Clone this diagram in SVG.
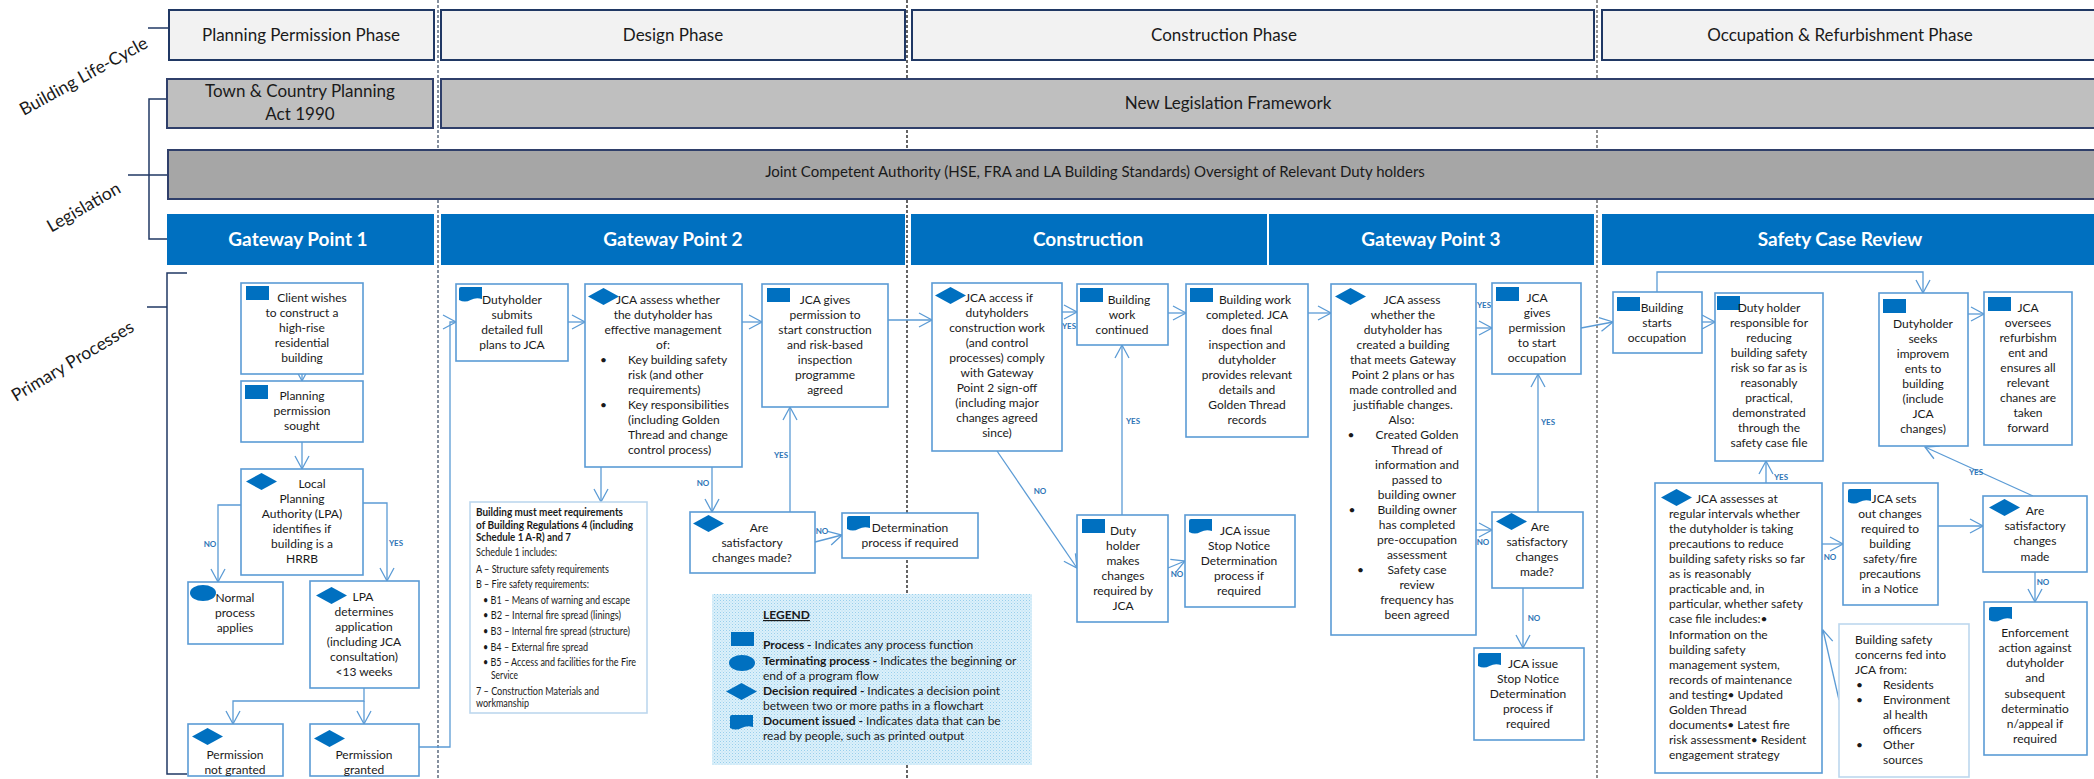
<svg xmlns="http://www.w3.org/2000/svg" width="2094" height="779" viewBox="0 0 2094 779">
<style>
.ph{fill:#f2f2f2;stroke:#203864;stroke-width:2}
.lg1{fill:#bfbfbf;stroke:#2f3f6a;stroke-width:2}
.lg2{fill:#a6a6a6;stroke:#2f3f6a;stroke-width:2}
.hd{fill:#0070c0}
.bx{fill:#fff;stroke:#5b9bd5;stroke-width:1.6}
.bx2{fill:#fff;stroke:#bdd7ee;stroke-width:1.6}
.ic{fill:#0070c0}
text{font-family:Lato,'Liberation Sans',sans-serif;fill:#1a1a1a}
.t{font-size:12px;text-anchor:middle}
.tl{font-size:12px;text-anchor:start}
.rg{font-size:11px;text-anchor:start}
.pt{font-size:17px;text-anchor:middle}
.hw{font-size:19px;font-weight:700;fill:#fff;text-anchor:middle}
.rot{font-size:17.5px;text-anchor:middle}
.yn{font-size:8px;font-weight:700;fill:#2e75b6;text-anchor:middle}
.c{stroke:#5b9bd5;stroke-width:1.3;fill:none;marker-end:url(#ah)}
.br{stroke:#203864;stroke-width:1.5;fill:none}
.dv{stroke-width:1.3;stroke-dasharray:3,2;fill:none}
</style>
<defs>
<marker id="ah" markerUnits="userSpaceOnUse" markerWidth="16" markerHeight="17" refX="14" refY="8" orient="auto">
<path d="M1,1 L14,8 L1,15" fill="none" stroke="#5b9bd5" stroke-width="1.3"/>
</marker>
<rect id="proc" width="23" height="14" class="ic"/>
<polygon id="dia" points="0,8.5 15.5,0 31,8.5 15.5,17" class="ic"/>
<path id="doc" d="M0,2 Q0,0 2,0 H23 V12 Q17,10 11.5,13 Q6,16 0,13 Z" class="ic"/>
<pattern id="dots" width="3" height="3" patternUnits="userSpaceOnUse">
<rect width="3" height="3" fill="#dcf0fa"/>
<rect width="1" height="1" fill="#98cfec"/>
<rect x="1.5" y="1.5" width="1" height="1" fill="#b3ddf2"/>
</pattern>
</defs>

<g id="dividers">
<line x1="438" y1="0" x2="438" y2="779" class="dv" stroke="#44546a"/>
<line x1="907" y1="0" x2="907" y2="779" class="dv" stroke="#111"/>
<line x1="1597" y1="0" x2="1597" y2="779" class="dv" stroke="#555"/>
</g>

<g id="side">
<line x1="148" y1="28" x2="169" y2="28" class="br"/>
<path d="M167,99 H149 V239 H168 M128,175 H168" class="br"/>
<path d="M187,273 H167 V774 H187 M147,307 H167" class="br"/>
<text class="rot" transform="translate(84,77) rotate(-29)" y="5">Building Life-Cycle</text>
<text class="rot" transform="translate(84,208) rotate(-30)" y="5">Legislation</text>
<text class="rot" transform="translate(73,362) rotate(-31)" y="5">Primary Processes</text>
</g>

<g id="phase-planning"><rect x="169" y="10" width="265" height="50" class="ph"/><text class="pt" x="301" y="41">Planning Permission Phase</text></g>
<g id="phase-design"><rect x="441" y="10" width="464" height="50" class="ph"/><text class="pt" x="673" y="41">Design Phase</text></g>
<g id="phase-construction"><rect x="912" y="10" width="682" height="50" class="ph"/><text class="pt" x="1224" y="41">Construction Phase</text></g>
<g id="phase-occupation"><rect x="1602" y="10" width="500" height="50" class="ph"/><text class="pt" x="1840" y="41">Occupation &amp; Refurbishment Phase</text></g>

<g id="leg-tcp"><rect x="167" y="79" width="266" height="49" class="lg1"/><text class="pt" x="300" y="97">Town &amp; Country Planning</text><text class="pt" x="300" y="120">Act 1990</text></g>
<g id="leg-new"><rect x="441" y="79" width="1660" height="49" class="lg1"/><text class="pt" x="1228" y="109">New Legislation Framework</text></g>
<g id="leg-jca"><rect x="168" y="150" width="1933" height="49" class="lg2"/><text class="pt" style="font-size:15px" x="1095" y="177">Joint Competent Authority (HSE, FRA and LA Building Standards) Oversight of Relevant Duty holders</text></g>

<g id="hd-gp1"><rect x="167" y="214" width="267" height="51" class="hd"/><text class="hw" x="298" y="246">Gateway Point 1</text></g>
<g id="hd-gp2"><rect x="441" y="214" width="464" height="51" class="hd"/><text class="hw" x="673" y="246">Gateway Point 2</text></g>
<g id="hd-con"><rect x="911" y="214" width="356" height="51" class="hd"/><text class="hw" x="1088" y="246">Construction</text></g>
<g id="hd-gp3"><rect x="1269" y="214" width="325" height="51" class="hd"/><text class="hw" x="1431" y="246">Gateway Point 3</text></g>
<g id="hd-scr"><rect x="1602" y="214" width="500" height="51" class="hd"/><text class="hw" x="1840" y="246">Safety Case Review</text></g>

<g id="connectors">
<path d="M302,374 V381" class="c"/>
<path d="M302,442 V469" class="c"/>
<path d="M241,505 H218 V582" class="c"/>
<path d="M363,503 H387 V581" class="c"/>
<path d="M364,688 V701 H233 V724" class="c"/>
<path d="M364,701 V724" class="c"/>
<path d="M419,747 H450 V322 H456" class="c"/>
<path d="M568,322 H585" class="c"/>
<path d="M742,322 H762" class="c"/>
<path d="M888,320 H932" class="c"/>
<path d="M601,453 V502" class="c"/>
<path d="M712,453 V512" class="c"/>
<path d="M790,512 V407" class="c"/>
<path d="M815,542 L842,535" class="c"/>
<path d="M1062,312 H1077" class="c"/>
<path d="M1168,313 H1186" class="c"/>
<path d="M1308,313 H1331" class="c"/>
<path d="M997,451 L1077,568" class="c"/>
<path d="M1122,515 V345" class="c"/>
<path d="M1168,568 L1185,561" class="c"/>
<path d="M1476,328 H1492" class="c"/>
<path d="M1581,328 L1613,322" class="c"/>
<path d="M1476,530 H1492" class="c"/>
<path d="M1538,512 V374" class="c"/>
<path d="M1523,588 V648" class="c"/>
<path d="M1657,292 V272 H1923 V293" class="c"/>
<path d="M1702,322 H1715" class="c"/>
<path d="M1968,314 H1984" class="c"/>
<path d="M1766,483 V461" class="c"/>
<path d="M1822,544 H1843" class="c"/>
<path d="M1938,526 H1983" class="c"/>
<path d="M2033,496 L1925,447" class="c"/>
<path d="M2035,572 V602" class="c"/>
<path d="M1839,700 L1823,630" class="c"/>
<text class="yn" x="210" y="547">NO</text>
<text class="yn" x="396" y="546">YES</text>
<text class="yn" x="703" y="486">NO</text>
<text class="yn" x="781" y="458">YES</text>
<text class="yn" x="822" y="534">NO</text>
<text class="yn" x="1069" y="329">YES</text>
<text class="yn" x="1040" y="494">NO</text>
<text class="yn" x="1133" y="424">YES</text>
<text class="yn" x="1177" y="577">NO</text>
<text class="yn" x="1484" y="308">YES</text>
<text class="yn" x="1483" y="545">NO</text>
<text class="yn" x="1548" y="425">YES</text>
<text class="yn" x="1534" y="621">NO</text>
<text class="yn" x="1781" y="480">YES</text>
<text class="yn" x="1830" y="560">NO</text>
<text class="yn" x="1976" y="475">YES</text>
<text class="yn" x="2043" y="585">NO</text>
</g>

<g id="n-client"><rect x="241" y="283" width="122" height="91" class="bx"/><use href="#proc" x="246" y="286"/>
<text class="t"><tspan x="312" y="302">Client wishes</tspan><tspan x="302" y="317">to construct a</tspan><tspan x="302" y="332">high-rise</tspan><tspan x="302" y="347">residential</tspan><tspan x="302" y="362">building</tspan></text></g>
<g id="n-planning"><rect x="241" y="381" width="122" height="61" class="bx"/><use href="#proc" x="245" y="385"/>
<text class="t"><tspan x="302" y="400">Planning</tspan><tspan x="302" y="415">permission</tspan><tspan x="302" y="430">sought</tspan></text></g>
<g id="n-lpa"><rect x="241" y="469" width="122" height="106" class="bx"/><use href="#dia" x="246" y="473"/>
<text class="t"><tspan x="312" y="488">Local</tspan><tspan x="302" y="503">Planning</tspan><tspan x="302" y="518">Authority (LPA)</tspan><tspan x="302" y="533">identifies if</tspan><tspan x="302" y="548">building is a</tspan><tspan x="302" y="563">HRRB</tspan></text></g>
<g id="n-normal"><rect x="188" y="582" width="95" height="62" class="bx"/><ellipse cx="203" cy="593" rx="13" ry="8" class="ic"/>
<text class="t"><tspan x="235" y="602">Normal</tspan><tspan x="235" y="617">process</tspan><tspan x="235" y="632">applies</tspan></text></g>
<g id="n-lpadet"><rect x="310" y="581" width="109" height="107" class="bx"/><use href="#dia" x="316" y="587"/>
<text class="t"><tspan x="363" y="601">LPA</tspan><tspan x="364" y="616">determines</tspan><tspan x="364" y="631">application</tspan><tspan x="364" y="646">(including JCA</tspan><tspan x="364" y="661">consultation)</tspan><tspan x="364" y="676">&lt;13 weeks</tspan></text></g>
<g id="n-notgranted"><rect x="188" y="724" width="95" height="52" class="bx"/><use href="#dia" x="192" y="728"/>
<text class="t"><tspan x="235" y="759">Permission</tspan><tspan x="235" y="774">not granted</tspan></text></g>
<g id="n-granted"><rect x="310" y="724" width="109" height="52" class="bx"/><use href="#dia" x="314" y="730"/>
<text class="t"><tspan x="364" y="759">Permission</tspan><tspan x="364" y="774">granted</tspan></text></g>

<g id="n-dsubmit"><rect x="456" y="284" width="112" height="77" class="bx"/><use href="#doc" x="459" y="287"/>
<text class="t"><tspan x="512" y="304">Dutyholder</tspan><tspan x="512" y="319">submits</tspan><tspan x="512" y="334">detailed full</tspan><tspan x="512" y="349">plans to JCA</tspan></text></g>
<g id="n-jcaassess"><rect x="585" y="284" width="157" height="183" class="bx"/><use href="#dia" x="588" y="288"/>
<text class="t"><tspan x="668" y="304">JCA assess whether</tspan><tspan x="663" y="319">the dutyholder has</tspan><tspan x="663" y="334">effective management</tspan><tspan x="663" y="349">of:</tspan></text>
<text class="tl"><tspan x="600" y="364">•</tspan><tspan x="600" y="409">•</tspan></text>
<text class="tl"><tspan x="628" y="364">Key building safety</tspan><tspan x="628" y="379">risk (and other</tspan><tspan x="628" y="394">requirements)</tspan><tspan x="628" y="409">Key responsibilities</tspan><tspan x="628" y="424">(including Golden</tspan><tspan x="628" y="439">Thread and change</tspan><tspan x="628" y="454">control process)</tspan></text></g>
<g id="n-jcagives"><rect x="762" y="284" width="126" height="123" class="bx"/><use href="#proc" x="767" y="288"/>
<text class="t"><tspan x="825" y="304">JCA gives</tspan><tspan x="825" y="319">permission to</tspan><tspan x="825" y="334">start construction</tspan><tspan x="825" y="349">and risk-based</tspan><tspan x="825" y="364">inspection</tspan><tspan x="825" y="379">programme</tspan><tspan x="825" y="394">agreed</tspan></text></g>
<g id="n-regs"><rect x="470" y="502" width="177" height="211" class="bx2"/>
<text class="rg" style="font-weight:700"><tspan x="476" y="516" textLength="147" lengthAdjust="spacingAndGlyphs">Building must meet requirements</tspan><tspan x="476" y="529" textLength="157" lengthAdjust="spacingAndGlyphs">of Building Regulations 4 (including</tspan><tspan x="476" y="541" textLength="95" lengthAdjust="spacingAndGlyphs">Schedule 1 A-R) and 7</tspan></text>
<text class="rg"><tspan x="476" y="556" textLength="81" lengthAdjust="spacingAndGlyphs">Schedule 1 includes:</tspan><tspan x="476" y="573" textLength="133" lengthAdjust="spacingAndGlyphs">A – Structure safety requirements</tspan><tspan x="476" y="588" textLength="113" lengthAdjust="spacingAndGlyphs">B – Fire safety requirements:</tspan><tspan x="483" y="604" textLength="147" lengthAdjust="spacingAndGlyphs">• B1 – Means of warning and escape</tspan><tspan x="483" y="619" textLength="138" lengthAdjust="spacingAndGlyphs">• B2 – Internal fire spread (linings)</tspan><tspan x="483" y="635" textLength="147" lengthAdjust="spacingAndGlyphs">• B3 – Internal fire spread (structure)</tspan><tspan x="483" y="651" textLength="105" lengthAdjust="spacingAndGlyphs">• B4 – External fire spread</tspan><tspan x="483" y="666" textLength="153" lengthAdjust="spacingAndGlyphs">• B5 – Access and facilities for the Fire</tspan><tspan x="491" y="679" textLength="27" lengthAdjust="spacingAndGlyphs">Service</tspan><tspan x="476" y="695" textLength="123" lengthAdjust="spacingAndGlyphs">7 – Construction Materials and</tspan><tspan x="476" y="707" textLength="53" lengthAdjust="spacingAndGlyphs">workmanship</tspan></text></g>
<g id="n-are1"><rect x="690" y="512" width="125" height="61" class="bx"/><use href="#dia" x="693" y="515"/>
<text class="t"><tspan x="759" y="532">Are</tspan><tspan x="752" y="547">satisfactory</tspan><tspan x="752" y="562">changes made?</tspan></text></g>
<g id="n-determ"><rect x="842" y="513" width="136" height="45" class="bx"/><use href="#doc" x="847" y="516"/>
<text class="t"><tspan x="910" y="532">Determination</tspan><tspan x="910" y="547">process if required</tspan></text></g>

<g id="legend"><rect x="712" y="594" width="320" height="171" fill="url(#dots)"/>
<text class="tl" x="763" y="619" style="font-weight:700;text-decoration:underline">LEGEND</text>
<rect x="731" y="632" width="23" height="14" class="ic"/>
<ellipse cx="742" cy="663" rx="13" ry="8" class="ic"/>
<polygon points="726,691.5 741.5,683 757,691.5 741.5,700" class="ic"/>
<use href="#doc" x="730" y="715"/>
<text class="tl"><tspan x="763" y="649"><tspan font-weight="700">Process - </tspan>Indicates any process function</tspan><tspan x="763" y="665"><tspan font-weight="700">Terminating process - </tspan>Indicates the beginning or</tspan><tspan x="763" y="680">end of a program flow</tspan><tspan x="763" y="695"><tspan font-weight="700">Decision required - </tspan>Indicates a decision point</tspan><tspan x="763" y="710">between two or more paths in a flowchart</tspan><tspan x="763" y="725"><tspan font-weight="700">Document issued - </tspan>Indicates data that can be</tspan><tspan x="763" y="740">read by people, such as printed output</tspan></text></g>

<g id="n-access"><rect x="932" y="283" width="130" height="168" class="bx"/><use href="#dia" x="935" y="287"/>
<text class="t"><tspan x="999" y="302">JCA access if</tspan><tspan x="997" y="317">dutyholders</tspan><tspan x="997" y="332">construction work</tspan><tspan x="997" y="347">(and control</tspan><tspan x="997" y="362">processes) comply</tspan><tspan x="997" y="377">with Gateway</tspan><tspan x="997" y="392">Point 2 sign-off</tspan><tspan x="997" y="407">(including major</tspan><tspan x="997" y="422">changes agreed</tspan><tspan x="997" y="437">since)</tspan></text></g>
<g id="n-cont"><rect x="1077" y="284" width="91" height="61" class="bx"/><use href="#proc" x="1080" y="288"/>
<text class="t"><tspan x="1129" y="304">Building</tspan><tspan x="1122" y="319">work</tspan><tspan x="1122" y="334">continued</tspan></text></g>
<g id="n-completed"><rect x="1186" y="284" width="122" height="153" class="bx"/><use href="#proc" x="1190" y="288"/>
<text class="t"><tspan x="1255" y="304">Building work</tspan><tspan x="1247" y="319">completed. JCA</tspan><tspan x="1247" y="334">does final</tspan><tspan x="1247" y="349">inspection and</tspan><tspan x="1247" y="364">dutyholder</tspan><tspan x="1247" y="379">provides relevant</tspan><tspan x="1247" y="394">details and</tspan><tspan x="1247" y="409">Golden Thread</tspan><tspan x="1247" y="424">records</tspan></text></g>
<g id="n-makes"><rect x="1077" y="515" width="91" height="107" class="bx"/><use href="#proc" x="1082" y="519"/>
<text class="t"><tspan x="1123" y="535">Duty</tspan><tspan x="1123" y="550">holder</tspan><tspan x="1123" y="565">makes</tspan><tspan x="1123" y="580">changes</tspan><tspan x="1123" y="595">required by</tspan><tspan x="1123" y="610">JCA</tspan></text></g>
<g id="n-stop1"><rect x="1185" y="515" width="110" height="92" class="bx"/><use href="#doc" x="1189" y="519"/>
<text class="t"><tspan x="1245" y="535">JCA issue</tspan><tspan x="1239" y="550">Stop Notice</tspan><tspan x="1239" y="565">Determination</tspan><tspan x="1239" y="580">process if</tspan><tspan x="1239" y="595">required</tspan></text></g>

<g id="n-gp3"><rect x="1331" y="284" width="145" height="351" class="bx"/><use href="#dia" x="1335" y="288"/>
<text class="t"><tspan x="1412" y="304">JCA assess</tspan><tspan x="1403" y="319">whether the</tspan><tspan x="1403" y="334">dutyholder has</tspan><tspan x="1403" y="349">created a building</tspan><tspan x="1403" y="364">that meets Gateway</tspan><tspan x="1403" y="379">Point 2 plans or has</tspan><tspan x="1403" y="394">made controlled and</tspan><tspan x="1403" y="409">justifiable changes.</tspan><tspan x="1403" y="424">Also:</tspan>
<tspan x="1351" y="439">•</tspan><tspan x="1352" y="514">•</tspan><tspan x="1362" y="574">•</tspan>
<tspan x="1417" y="439">Created Golden</tspan><tspan x="1417" y="454">Thread of</tspan><tspan x="1417" y="469">information and</tspan><tspan x="1417" y="484">passed to</tspan><tspan x="1417" y="499">building owner</tspan><tspan x="1417" y="514">Building owner</tspan><tspan x="1417" y="529">has completed</tspan><tspan x="1417" y="544">pre-occupation</tspan><tspan x="1417" y="559">assessment</tspan><tspan x="1417" y="574">Safety case</tspan><tspan x="1417" y="589">review</tspan><tspan x="1417" y="604">frequency has</tspan><tspan x="1417" y="619">been agreed</tspan></text></g>
<g id="n-gives2"><rect x="1492" y="283" width="89" height="91" class="bx"/><use href="#proc" x="1496" y="287"/>
<text class="t"><tspan x="1537" y="302">JCA</tspan><tspan x="1537" y="317">gives</tspan><tspan x="1537" y="332">permission</tspan><tspan x="1537" y="347">to start</tspan><tspan x="1537" y="362">occupation</tspan></text></g>
<g id="n-are2"><rect x="1492" y="512" width="91" height="76" class="bx"/><use href="#dia" x="1496" y="513"/>
<text class="t"><tspan x="1540" y="531">Are</tspan><tspan x="1537" y="546">satisfactory</tspan><tspan x="1537" y="561">changes</tspan><tspan x="1537" y="576">made?</tspan></text></g>
<g id="n-stop2"><rect x="1474" y="648" width="110" height="92" class="bx"/><use href="#doc" x="1478" y="653"/>
<text class="t"><tspan x="1533" y="668">JCA issue</tspan><tspan x="1528" y="683">Stop Notice</tspan><tspan x="1528" y="698">Determination</tspan><tspan x="1528" y="713">process if</tspan><tspan x="1528" y="728">required</tspan></text></g>

<g id="n-starts"><rect x="1613" y="292" width="89" height="61" class="bx"/><use href="#proc" x="1617" y="297"/>
<text class="t"><tspan x="1662" y="312">Building</tspan><tspan x="1657" y="327">starts</tspan><tspan x="1657" y="342">occupation</tspan></text></g>
<g id="n-resp"><rect x="1715" y="293" width="108" height="168" class="bx"/><use href="#proc" x="1717" y="296"/>
<text class="t"><tspan x="1769" y="312">Duty holder</tspan><tspan x="1769" y="327">responsible for</tspan><tspan x="1769" y="342">reducing</tspan><tspan x="1769" y="357">building safety</tspan><tspan x="1769" y="372">risk so far as is</tspan><tspan x="1769" y="387">reasonably</tspan><tspan x="1769" y="402">practical,</tspan><tspan x="1769" y="417">demonstrated</tspan><tspan x="1769" y="432">through the</tspan><tspan x="1769" y="447">safety case file</tspan></text></g>
<g id="n-seeks"><rect x="1879" y="293" width="89" height="153" class="bx"/><use href="#proc" x="1883" y="299"/>
<text class="t"><tspan x="1923" y="328">Dutyholder</tspan><tspan x="1923" y="343">seeks</tspan><tspan x="1923" y="358">improvem</tspan><tspan x="1923" y="373">ents to</tspan><tspan x="1923" y="388">building</tspan><tspan x="1923" y="403">(include</tspan><tspan x="1923" y="418">JCA</tspan><tspan x="1923" y="433">changes)</tspan></text></g>
<g id="n-oversees"><rect x="1984" y="292" width="88" height="153" class="bx"/><use href="#proc" x="1988" y="297"/>
<text class="t"><tspan x="2028" y="312">JCA</tspan><tspan x="2028" y="327">oversees</tspan><tspan x="2028" y="342">refurbishm</tspan><tspan x="2028" y="357">ent and</tspan><tspan x="2028" y="372">ensures all</tspan><tspan x="2028" y="387">relevant</tspan><tspan x="2028" y="402">chanes are</tspan><tspan x="2028" y="417">taken</tspan><tspan x="2028" y="432">forward</tspan></text></g>
<g id="n-regular"><rect x="1655" y="483" width="167" height="290" class="bx"/><use href="#dia" x="1661" y="489"/>
<text class="tl"><tspan x="1696" y="503">JCA assesses at</tspan><tspan x="1669" y="518">regular intervals whether</tspan><tspan x="1669" y="533">the dutyholder is taking</tspan><tspan x="1669" y="548">precautions to reduce</tspan><tspan x="1669" y="563">building safety risks so far</tspan><tspan x="1669" y="578">as is reasonably</tspan><tspan x="1669" y="593">practicable and, in</tspan><tspan x="1669" y="608">particular, whether safety</tspan><tspan x="1669" y="623">case file includes:•</tspan><tspan x="1669" y="639">Information on the</tspan><tspan x="1669" y="654">building safety</tspan><tspan x="1669" y="669">management system,</tspan><tspan x="1669" y="684">records of maintenance</tspan><tspan x="1669" y="699">and testing• Updated</tspan><tspan x="1669" y="714">Golden Thread</tspan><tspan x="1669" y="729">documents• Latest fire</tspan><tspan x="1669" y="744">risk assessment• Resident</tspan><tspan x="1669" y="759">engagement strategy</tspan></text></g>
<g id="n-sets"><rect x="1843" y="483" width="95" height="122" class="bx"/><use href="#doc" x="1848" y="489"/>
<text class="t"><tspan x="1894" y="503">JCA sets</tspan><tspan x="1890" y="518">out changes</tspan><tspan x="1890" y="533">required to</tspan><tspan x="1890" y="548">building</tspan><tspan x="1890" y="563">safety/fire</tspan><tspan x="1890" y="578">precautions</tspan><tspan x="1890" y="593">in a Notice</tspan></text></g>
<g id="n-are3"><rect x="1983" y="496" width="104" height="76" class="bx"/><use href="#dia" x="1989" y="499"/>
<text class="t"><tspan x="2035" y="515">Are</tspan><tspan x="2035" y="530">satisfactory</tspan><tspan x="2035" y="545">changes</tspan><tspan x="2035" y="561">made</tspan></text></g>
<g id="n-enforce"><rect x="1984" y="602" width="103" height="153" class="bx"/><use href="#doc" x="1989" y="607"/>
<text class="t"><tspan x="2035" y="637">Enforcement</tspan><tspan x="2035" y="652">action against</tspan><tspan x="2035" y="667">dutyholder</tspan><tspan x="2035" y="682">and</tspan><tspan x="2035" y="698">subsequent</tspan><tspan x="2035" y="713">determinatio</tspan><tspan x="2035" y="728">n/appeal if</tspan><tspan x="2035" y="743">required</tspan></text></g>
<g id="n-concerns"><rect x="1839" y="624" width="130" height="153" class="bx2"/>
<text class="tl"><tspan x="1855" y="644">Building safety</tspan><tspan x="1855" y="659">concerns fed into</tspan><tspan x="1855" y="674">JCA from:</tspan><tspan x="1856" y="689">•</tspan><tspan x="1856" y="704">•</tspan><tspan x="1856" y="749">•</tspan><tspan x="1883" y="689">Residents</tspan><tspan x="1883" y="704">Environment</tspan><tspan x="1883" y="719">al health</tspan><tspan x="1883" y="734">officers</tspan><tspan x="1883" y="749">Other</tspan><tspan x="1883" y="764">sources</tspan></text></g>
</svg>
